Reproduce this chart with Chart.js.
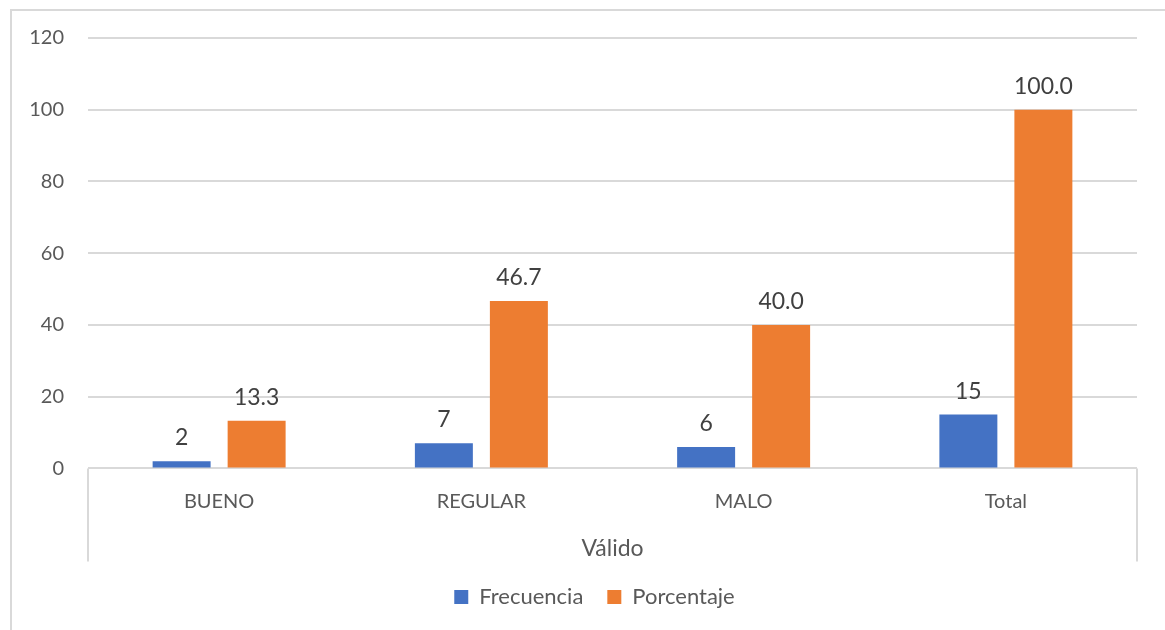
<!DOCTYPE html>
<html>
<head>
<meta charset="utf-8">
<script src="https://cdn.jsdelivr.net/npm/chart.js@4/dist/chart.umd.min.js"></script>
<style>
  html, body { margin: 0; padding: 0; background: #fff; overflow: hidden; }
  #frame {
    position: absolute; left: 10px; top: 9px;
    width: 1200px; height: 660px;
    border: 2px solid #d9d9d9;
  }
  #wrap { position: absolute; left: 0; top: 0; width: 1153px; height: 619px; }
</style>
</head>
<body>
<div id="frame"><div id="wrap"><canvas id="chart"></canvas></div></div>
<script>
const categories = ["BUENO", "REGULAR", "MALO", "Total"];
const frecuencia = [2, 7, 6, 15];
const porcentaje = [13.3, 46.7, 40.0, 100.0];
const groupLabel = "Válido";

const textColor = "#595959";
const labelColor = "#404040";
const gridColor = "#d9d9d9";
const fontFamily = "Lato, 'Open Sans', sans-serif";

// value labels above each bar
const barLabels = {
  id: "barLabels",
  afterDatasetsDraw(chart) {
    const ctx = chart.ctx;
    ctx.save();
    ctx.font = "23px " + fontFamily;
    ctx.fillStyle = labelColor;
    ctx.textAlign = "center";
    ctx.textBaseline = "alphabetic";
    chart.data.datasets.forEach((ds, i) => {
      chart.getDatasetMeta(i).data.forEach((bar, j) => {
        const v = ds.data[j];
        const txt = i === 1 ? v.toFixed(1) : String(v);
        ctx.fillText(txt, bar.x, bar.y - 16);
      });
    });
    ctx.restore();
  },
};

// side lines of the outer category group, and legend nudged to the right
const groupBox = {
  id: "groupBox",
  afterLayout(chart) {
    chart.legend.left += 20;
    chart.legend.right += 20;
  },
  afterDraw(chart) {
    const ctx = chart.ctx;
    const area = chart.chartArea;
    ctx.save();
    ctx.strokeStyle = gridColor;
    ctx.lineWidth = 2;
    ctx.beginPath();
    ctx.moveTo(area.left, area.bottom);
    ctx.lineTo(area.left, area.bottom + 93);
    ctx.moveTo(area.right, area.bottom);
    ctx.lineTo(area.right, area.bottom + 93);
    ctx.stroke();
    ctx.restore();
  },
};

new Chart("chart", {
  type: "bar",
  data: {
    labels: categories,
    datasets: [
      {
        label: "Frecuencia",
        data: frecuencia,
        backgroundColor: "#4472c4",
        borderWidth: 0,
      },
      {
        label: "Porcentaje",
        data: porcentaje,
        backgroundColor: "#ed7d31",
        borderWidth: 0,
      },
    ],
  },
  options: {
    responsive: true,
    maintainAspectRatio: false,
    animation: false,
    layout: { padding: { top: 27, right: 28, bottom: 12, left: 0 } },
    datasets: {
      bar: { categoryPercentage: 0.572, barPercentage: 0.773 },
    },
    plugins: {
      tooltip: { enabled: false },
      legend: {
        position: "bottom",
        labels: {
          boxWidth: 14,
          boxHeight: 14,
          padding: 24,
          color: textColor,
          font: { family: fontFamily, size: 22 },
        },
      },
    },
    scales: {
      x: {
        grid: { display: false, drawTicks: false },
        border: { display: false },
        ticks: {
          color: textColor,
          padding: 21,
          font: { family: fontFamily, size: 20 },
        },
        title: {
          display: true,
          text: groupLabel,
          color: textColor,
          padding: { top: 0, bottom: 0 },
          font: { family: fontFamily, size: 23 },
        },
      },
      y: {
        min: 0,
        max: 120,
        afterFit(scale) {
          scale.width = 76;
          scale.paddingTop = 0;
          scale.paddingBottom = 0;
        },
        grid: { color: gridColor, lineWidth: 2, drawTicks: false },
        border: { display: false },
        ticks: {
          stepSize: 20,
          color: textColor,
          padding: 24,
          font: { family: fontFamily, size: 20 },
        },
      },
    },
  },
  plugins: [barLabels, groupBox],
});
</script>
</body>
</html>
